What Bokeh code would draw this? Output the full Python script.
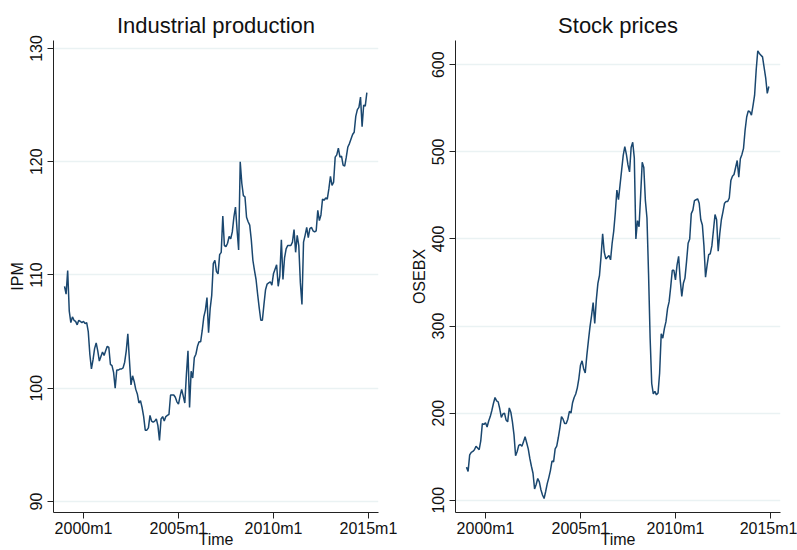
from bokeh.plotting import figure
from bokeh.layouts import row
from bokeh.models import FixedTicker, Range1d
from bokeh.embed import file_html
from bokeh.resources import INLINE

# Monthly data, 1999m1 .. 2014m12
start_year = 1999
n_months = 192

ipm = [109.0, 108.3, 110.4, 106.8, 105.8, 106.3, 106.0, 105.9, 105.6, 106.0, 105.9, 105.8,
       105.9, 105.7, 105.8, 105.0, 103.0, 101.7, 102.5, 103.5, 104.0, 103.3, 102.4, 102.8,
       103.2, 102.9, 103.3, 103.7, 103.6, 102.1, 102.0, 101.4, 100.0, 101.6, 101.6, 101.7,
       101.7, 101.8, 102.3, 103.3, 104.8, 102.5, 100.3, 101.1, 100.6, 99.9, 99.5, 98.7,
       98.9, 98.3, 97.5, 96.3, 96.3, 96.5, 97.6, 97.1, 97.0, 97.1, 97.3, 96.7,
       95.4, 97.3, 97.5, 97.1, 97.5, 97.6, 97.7, 99.4, 99.4, 99.4, 99.2, 98.8,
       98.6, 99.3, 99.9, 99.3, 98.7, 101.2, 103.3, 98.3, 101.5, 100.9, 102.7, 103.0,
       103.7, 104.1, 104.1, 105.1, 106.3, 106.9, 108.0, 104.9, 107.0, 108.2, 111.0, 111.3,
       110.3, 110.1, 111.8, 112.0, 115.2, 112.6, 112.5, 112.8, 113.4, 113.2, 113.8, 115.1,
       116.0, 114.0, 112.2, 120.0, 118.1, 117.0, 116.9, 115.1, 114.7, 114.4, 113.1, 111.3,
       110.4, 109.6, 108.3, 107.1, 106.0, 106.0, 107.4, 108.7, 109.2, 109.3, 109.4, 109.1,
       110.1, 110.5, 110.9, 109.0, 109.9, 113.1, 109.6, 111.5, 112.3, 112.6, 112.6, 112.6,
       112.9, 114.0, 112.0, 113.5, 112.6, 109.3, 107.4, 112.9, 113.5, 114.2, 113.3, 114.1,
       114.2, 113.9, 113.8, 113.9, 115.7, 114.8, 115.3, 116.7, 116.6, 116.8, 116.7, 117.6,
       118.7, 117.9, 118.2, 120.4, 120.6, 121.2, 120.4, 120.5, 119.7, 119.6, 120.4, 121.3,
       121.6, 122.0, 122.4, 122.6, 124.0, 124.6, 124.8, 125.7, 123.1, 125.0, 124.9, 126.1]

osebx = [138, 133, 152, 155, 156, 158, 162, 160, 158, 168, 188, 187,
         189, 184, 191, 196, 203, 211, 218, 214, 213, 205, 195, 199,
         200, 192, 190, 206, 201, 190, 175, 151, 156, 163, 164, 162,
         167, 173, 166, 159, 148, 139, 131, 113, 118, 125, 121, 112,
         106, 102, 110, 119, 126, 134, 145, 144, 159, 162, 172, 183,
         196, 193, 188, 188, 193, 202, 200, 212, 218, 222, 229, 240,
         255, 260, 251, 246, 266, 283, 299, 312, 327, 303, 330, 349,
         358, 380, 406, 385, 377, 379, 381, 376, 395, 409, 430, 456,
         445, 462, 479, 496, 506, 497, 485, 477, 505, 511, 493, 400,
         421, 414, 450, 488, 482, 444, 424, 360, 286, 234, 222, 225,
         221, 223, 246, 291, 286, 297, 305, 320, 328, 345, 364, 364,
         353, 370, 380, 353, 334, 349, 355, 374, 395, 400, 429, 433,
         444, 445, 446, 441, 422, 416, 392, 356, 370, 382, 383, 392,
         410, 428, 422, 386, 406, 422, 431, 441, 443, 443, 447, 467,
         472, 474, 482, 490, 471, 492, 497, 504, 525, 540, 547, 546,
         542, 553, 565, 594, 616, 613, 611, 609, 597, 585, 567, 575]

time = [start_year + i / 12 for i in range(n_months)]

x_ticks = [2000, 2005, 2010, 2015]
x_tick_labels = ["2000m1", "2005m1", "2010m1", "2015m1"]
ipm_ticks = [90, 100, 110, 120, 130]
osebx_ticks = [100, 200, 300, 400, 500, 600]

LINE = "#1a476f"
GRID = "#eaf2f3"
FONT = "Liberation Sans"
TXT = "#111111"


def make_panel(title, ylabel, yvals, yrange, yticks, width, border_left, border_right):
    p = figure(width=width, height=550, output_backend="svg", toolbar_location=None,
               x_range=Range1d(1998.42, 2015.53), y_range=Range1d(*yrange),
               min_border_left=border_left, min_border_right=border_right,
               min_border_top=40, min_border_bottom=37)
    p.line(time, yvals, line_color=LINE, line_width=1.5)

    p.outline_line_color = None
    p.background_fill_color = "white"
    p.border_fill_color = "white"

    p.title.text = title
    p.title.align = "center"
    p.title.text_font = FONT
    p.title.text_font_size = "22px"
    p.title.text_font_style = "normal"
    p.title.text_color = TXT
    p.title.standoff = 6

    xa = p.xaxis[0]
    xa.ticker = FixedTicker(ticks=x_ticks)
    xa.major_label_overrides = {t: s for t, s in zip(x_ticks, x_tick_labels)}
    xa.major_label_text_font = FONT
    xa.major_label_text_font_size = "16px"
    xa.major_label_text_color = TXT
    xa.major_label_standoff = 1
    xa.major_tick_out = 6
    xa.major_tick_in = 0
    xa.minor_tick_line_color = None
    xa.axis_line_color = "#222222"
    xa.major_tick_line_color = "#222222"
    xa.axis_label = "Time"
    xa.axis_label_text_font = FONT
    xa.axis_label_text_font_size = "16px"
    xa.axis_label_text_font_style = "normal"
    xa.axis_label_text_color = TXT
    xa.axis_label_standoff = -9

    ya = p.yaxis[0]
    ya.ticker = FixedTicker(ticks=yticks)
    ya.major_label_orientation = "vertical"
    ya.major_label_text_font = FONT
    ya.major_label_text_font_size = "16px"
    ya.major_label_text_color = TXT
    ya.major_label_standoff = 5
    ya.major_tick_out = 6
    ya.major_tick_in = 0
    ya.minor_tick_line_color = None
    ya.axis_line_color = "#222222"
    ya.major_tick_line_color = "#222222"
    ya.axis_label = ylabel
    ya.axis_label_text_font = FONT
    ya.axis_label_text_font_size = "16px"
    ya.axis_label_text_font_style = "normal"
    ya.axis_label_text_color = TXT
    ya.axis_label_standoff = 2

    p.xgrid.visible = False
    p.ygrid.ticker = FixedTicker(ticks=yticks)
    p.ygrid.grid_line_color = GRID
    p.ygrid.grid_line_width = 1.5
    return p


left = make_panel("Industrial production", "IPM", ipm, (89.03, 130.7), ipm_ticks,
                  398, 53, 20)
right = make_panel("Stock prices", "OSEBX", osebx, (85.9, 627.8), osebx_ticks,
                   399, 57, 17)

layout = row(left, right)
open("out.html", "w").write(file_html(layout, INLINE))
